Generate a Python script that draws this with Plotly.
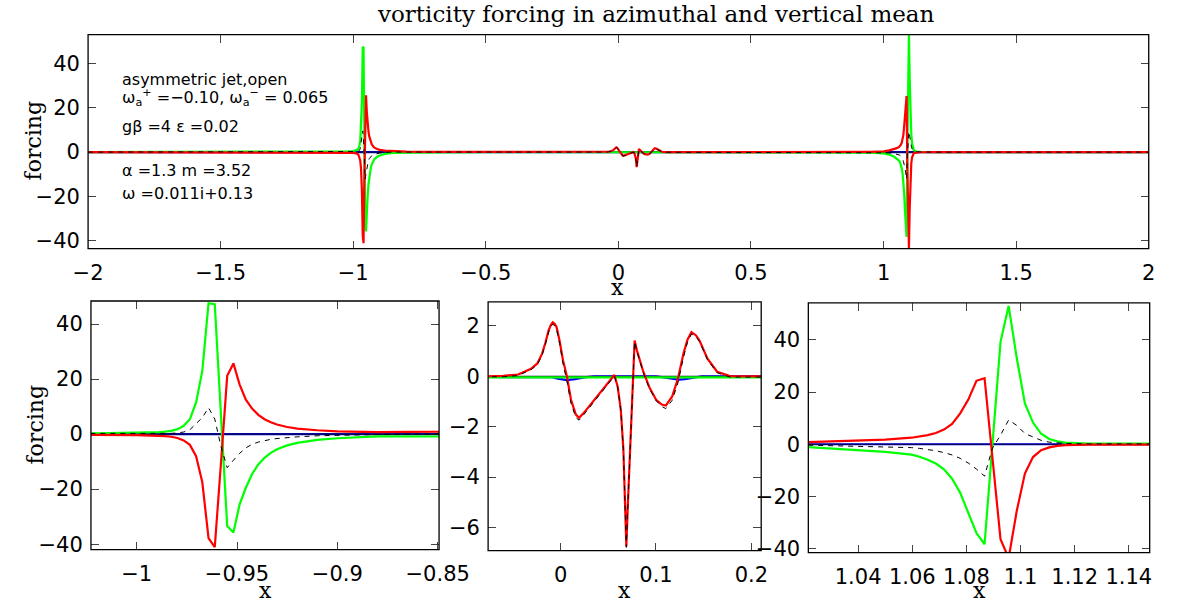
import plotly.graph_objects as go

W, H = 1198, 607

# ---------------- data ----------------
# left spike region
x_spike_left = [-2.00, -1.50, -1.20, -1.10, -1.05, -1.02, -1.00, -0.9890, -0.9859, -0.9828,
                -0.9797, -0.9766, -0.9735, -0.9704, -0.9673, -0.9642, -0.9611, -0.9580,
                -0.9549, -0.9518, -0.9487, -0.9456, -0.9425, -0.9394, -0.9363, -0.9332,
                -0.9301, -0.9250, -0.9200, -0.9100, -0.9000, -0.8800, -0.8500, -0.8000,
                -0.7000, -0.5000]
red_spike_left = [0.00, -0.02, -0.05, -0.10, -0.15, -0.25, -0.35, -0.55, -0.70, -0.95,
                  -1.40, -2.30, -3.90, -8.00, -17.5, -37.8, -41.1, -10.5,
                  21.2, 25.7, 18.0, 12.5, 9.3, 7.0, 5.4, 4.3,
                  3.5, 2.6, 2.0, 1.4, 1.0, 0.70, 0.45, 0.25,
                  0.10, 0.03]
green_spike_left = [0.00, 0.02, 0.06, 0.12, 0.20, 0.32, 0.48, 0.72, 0.90, 1.20,
                    1.80, 3.00, 5.40, 11.5, 23.0, 47.6, 47.2, 6.5,
                    -33.4, -35.8, -25.5, -19.5, -14.5, -11.0, -8.6, -6.8,
                    -5.5, -4.1, -3.2, -2.1, -1.5, -0.80, -0.40, -0.20,
                    -0.10, -0.05]
total_spike_left = [0.00, 0.00, 0.01, 0.02, 0.05, 0.07, 0.12, 0.17, 0.20, 0.27,
                    0.45, 0.75, 1.60, 3.70, 6.0, 9.6, 5.5, -4.5,
                    -12.2, -9.5, -7.0, -5.0, -3.7, -2.9, -2.3, -1.9,
                    -1.6, -1.2, -1.0, -0.6, -0.4, -0.15, 0.05, 0.04,
                    0.00, -0.01]

# central region
x_middle = [-0.2000, -0.0783, -0.0600, -0.0446, -0.0380, -0.0310, -0.0244, -0.0194, -0.0160,
            -0.0126, -0.0100, -0.0082, -0.0060, -0.0042, -0.0010, 0.0025, 0.0066, 0.0109,
            0.0160, 0.0194, 0.0244, 0.0328, 0.0429, 0.0513, 0.0564, 0.0598, 0.0631,
            0.0658, 0.0675, 0.0689, 0.0705, 0.0722, 0.0749, 0.0776, 0.0800, 0.0867,
            0.0934, 0.1002, 0.1060, 0.1103, 0.1170, 0.1231, 0.1288, 0.1330, 0.1372,
            0.1420, 0.1456, 0.1540, 0.1641, 0.1776, 0.2110, 0.5000, 0.8000]
red_middle = [0.00, 0.00, 0.02, 0.07, 0.18, 0.30, 0.51, 0.90, 1.32,
              1.82, 2.05, 2.14, 2.08, 1.95, 1.40, 0.64, 0.00, -0.93,
              -1.52, -1.65, -1.45, -1.06, -0.60, -0.21, 0.05, -0.40, -1.32,
              -2.89, -4.85, -6.75, -5.10, -3.50, -0.90, 1.42, 1.03, 0.18,
              -0.47, -0.93, -1.12, -1.16, -0.80, -0.08, 0.90, 1.45, 1.75,
              1.62, 1.42, 0.70, 0.18, 0.01, 0.00, 0.00, 0.02]
green_middle = [-0.04, -0.04, -0.04, -0.04, -0.04, -0.04, -0.04, -0.04, -0.04,
                -0.04, -0.04, -0.04, -0.04, -0.04, -0.04, -0.04, -0.04, -0.04,
                -0.04, -0.04, -0.04, -0.04, -0.04, -0.04, -0.04, -0.04, -0.04,
                -0.04, -0.04, -0.04, -0.04, -0.04, -0.04, -0.04, -0.04, -0.04,
                -0.04, -0.04, -0.04, -0.04, -0.04, -0.04, -0.04, -0.04, -0.04,
                -0.04, -0.04, -0.04, -0.04, -0.04, -0.04, -0.04, -0.06]
total_middle = [-0.03, -0.03, -0.02, 0.03, 0.14, 0.26, 0.46, 0.84, 1.26,
                1.75, 1.98, 2.07, 2.00, 1.86, 1.30, 0.50, -0.18, -1.07,
                -1.64, -1.74, -1.52, -1.11, -0.64, -0.25, 0.01, -0.44, -1.36,
                -2.93, -4.89, -6.79, -5.14, -3.54, -0.94, 1.38, 0.99, 0.14,
                -0.51, -0.97, -1.20, -1.28, -0.95, -0.25, 0.75, 1.35, 1.68,
                1.57, 1.38, 0.66, 0.14, -0.03, -0.03, -0.04, -0.04]

# right spike region
x_spike_right = [0.9000, 0.9500, 1.0000, 1.0216, 1.0400, 1.0500, 1.0597, 1.0627, 1.0657,
                 1.0687, 1.0717, 1.0747, 1.0777, 1.0807, 1.0837, 1.0867, 1.0896, 1.0926,
                 1.0956, 1.0986, 1.1016, 1.1046, 1.1076, 1.1106, 1.1136, 1.1166, 1.1250,
                 1.1400, 1.2000, 1.5000, 2.0000]
red_spike_right = [0.08, 0.15, 0.35, 0.80, 1.30, 1.80, 2.50, 2.90, 3.50,
                   4.30, 5.60, 7.80, 11.8, 17.1, 24.3, 25.3, -5.5, -36.4,
                   -43.6, -25.5, -11.2, -4.9, -2.3, -1.2, -0.60, -0.35, -0.15,
                   -0.05, -0.01, 0.00, 0.00]
green_spike_right = [-0.15, -0.25, -0.55, -1.10, -2.10, -2.90, -4.00, -4.80, -5.90,
                     -7.40, -9.60, -13.2, -18.6, -26.3, -34.0, -38.3, 0.5, 39.2,
                     53.0, 33.0, 15.6, 8.3, 4.0, 2.0, 1.10, 0.65, 0.28,
                     0.10, 0.02, 0.00, 0.00]
total_spike_right = [-0.06, -0.08, -0.20, -0.35, -0.70, -0.90, -1.30, -1.60, -2.00,
                     -2.50, -3.20, -4.10, -5.40, -7.20, -9.50, -12.2, -1.5, 3.5,
                     9.3, 7.2, 4.1, 2.7, 1.5, 0.8, 0.45, 0.28, 0.12,
                     0.04, 0.00, 0.00, 0.00]

# blue component (only visible in the centre)
x_blue = [-2.0, -0.02, -0.01, -0.003, 0.0066, 0.015, 0.025, 0.035, 0.100, 0.110, 0.118,
          0.1237, 0.130, 0.138, 0.148, 2.0]
blue_vals = [0.0, 0.0, -0.03, -0.09, -0.15, -0.11, -0.04, 0.0, 0.0, -0.05, -0.11,
             -0.13, -0.11, -0.05, 0.0, 0.0]

# black solid component (flat at zero)
x_black = [-2.0, 2.0]
black_vals = [0.0, 0.0]

# tick labels
top_xticks = [-2, -1.5, -1, -0.5, 0, 0.5, 1, 1.5, 2]
top_xtext = ["\u22122", "\u22121.5", "\u22121", "\u22120.5", "0", "0.5", "1", "1.5", "2"]
big_yticks = [-40, -20, 0, 20, 40]
big_ytext = ["\u221240", "\u221220", "0", "20", "40"]
bl_xticks = [-1, -0.95, -0.9, -0.85]
bl_xtext = ["\u22121", "\u22120.95", "\u22120.9", "\u22120.85"]
bm_xticks = [0, 0.1, 0.2]
bm_xtext = ["0", "0.1", "0.2"]
bm_yticks = [-6, -4, -2, 0, 2]
bm_ytext = ["\u22126", "\u22124", "\u22122", "0", "2"]
br_xticks = [1.04, 1.06, 1.08, 1.1, 1.12, 1.14]
br_xtext = ["1.04", "1.06", "1.08", "1.1", "1.12", "1.14"]

# ---------------- assemble ----------------
x_all = x_spike_left + x_middle + x_spike_right
red_all = red_spike_left + red_middle + red_spike_right
green_all = green_spike_left + green_middle + green_spike_right
total_all = total_spike_left + total_middle + total_spike_right


def fx(p):
    return p / W


def fy(p):
    return 1 - p / H


panels = [
    ("", (76, 1179), (35, 252), [-2, 2], [-43.6, 53.1], top_xticks, top_xtext, big_yticks, big_ytext),
    ("2", (79, 441), (305, 557), [-1.0228, -0.8493], [-42.0, 48.4], bl_xticks, bl_xtext, big_yticks, big_ytext),
    ("3", (492, 776), (306, 558), [-0.076, 0.2103], [-6.92, 2.95], bm_xticks, bm_xtext, bm_yticks, bm_ytext),
    ("4", (825, 1180), (307, 560), [1.0216, 1.1477], [-41.5, 54.1], br_xticks, br_xtext, big_yticks, big_ytext),
]

fig = go.Figure()
tick_font = dict(family="DejaVu Sans", size=21, color="black")
layout = dict(
    width=W, height=H, margin=dict(l=0, r=0, t=0, b=0),
    paper_bgcolor="white", plot_bgcolor="white", showlegend=False,
)
shapes = []

for suf, (x0, x1), (y0, y1), xr, yr, xt, xtt, yt, ytt in panels:
    xa = "x" + suf
    ya = "y" + suf
    fig.add_trace(go.Scatter(x=x_blue, y=blue_vals, mode="lines", xaxis=xa, yaxis=ya, zorder=0,
                             line=dict(color="rgb(0,0,255)", width=2.2), hoverinfo="skip"))
    fig.add_trace(go.Scatter(x=x_black, y=black_vals, mode="lines", xaxis=xa, yaxis=ya, zorder=1,
                             line=dict(color="rgb(10,10,50)", width=1.2), hoverinfo="skip"))
    fig.add_trace(go.Scatter(x=x_all, y=green_all, mode="lines", xaxis=xa, yaxis=ya, zorder=2,
                             line=dict(color="rgb(0,255,0)", width=2.2), hoverinfo="skip"))
    fig.add_trace(go.Scatter(x=x_all, y=red_all, mode="lines", xaxis=xa, yaxis=ya, zorder=3,
                             line=dict(color="rgb(255,0,0)", width=2.2), hoverinfo="skip"))
    fig.add_trace(go.Scatter(x=x_all, y=total_all, mode="lines", xaxis=xa, yaxis=ya, zorder=4,
                             line=dict(color="black", width=1, dash="5px,5px"), hoverinfo="skip"))
    common = dict(showline=True, linecolor="black", linewidth=1, mirror="ticks",
                  ticks="inside", ticklen=8, tickwidth=1, tickcolor="#444",
                  showgrid=False, zeroline=False, tickfont=tick_font, tickmode="array")
    layout["xaxis" + suf] = dict(domain=[fx(x0), fx(x1)], range=xr, anchor=ya,
                                 tickvals=xt, ticktext=xtt, ticklabelstandoff=5, **common)
    layout["yaxis" + suf] = dict(domain=[fy(y1), fy(y0)], range=yr, anchor=xa,
                                 tickvals=yt, ticktext=ytt, ticklabelstandoff=3, **common)
    shapes.append(dict(type="rect", xref=xa + " domain", yref=ya + " domain",
                       x0=0, x1=1, y0=0, y1=1, layer="above",
                       line=dict(color="black", width=1.3), fillcolor="rgba(0,0,0,0)"))

serif = dict(family="DejaVu Serif", size=22, color="black")
title_font = dict(family="DejaVu Serif", size=23, color="black")
sans = dict(family="DejaVu Sans", size=16, color="black")
ann = []
ann.append(dict(text="vorticity forcing in azimuthal and vertical mean", x=fx(667), y=fy(14),
                xref="paper", yref="paper", showarrow=False, font=title_font,
                xanchor="center", yanchor="middle"))
for (px, py) in [(19, 142), (21, 430)]:
    ann.append(dict(text="forcing", x=fx(px), y=fy(py), xref="paper", yref="paper",
                    showarrow=False, font=serif, textangle=-90,
                    xanchor="center", yanchor="middle"))
for (px, py) in [(627, 291), (260, 598), (634, 598), (1003, 598)]:
    ann.append(dict(text="x", x=fx(px), y=fy(py), xref="paper", yref="paper",
                    showarrow=False, font=serif, xanchor="center", yanchor="middle"))
info_lines = [
    ("asymmetric jet,open", 81),
    ("\u03c9<sub>a</sub><sup>+</sup> =\u22120.10, \u03c9<sub>a</sub><sup>\u2212</sup> = 0.065", 99),
    ("g\u03b2 =4 \u03b5 =0.02", 128),
    ("\u03b1 =1.3 m =3.52", 173),
    ("\u03c9 =0.011i+0.13", 196),
]
for txt, py in info_lines:
    ann.append(dict(text=txt, x=fx(109), y=fy(py), xref="paper", yref="paper",
                    showarrow=False, font=sans, xanchor="left", yanchor="middle"))
layout["annotations"] = ann
layout["shapes"] = shapes
fig.update_layout(**layout)

fig.write_html("out.html", config={"displayModeBar": False},
               post_script="document.body.style.margin='0';document.body.style.overflow='hidden';")
